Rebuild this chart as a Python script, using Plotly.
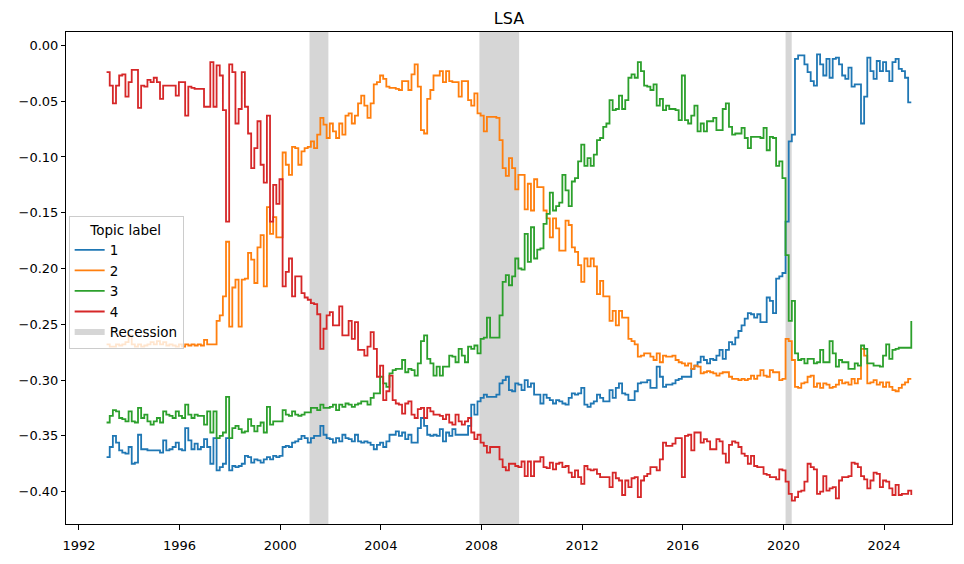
import pandas as pd
import plotly.graph_objects as go

# ~8 readings per year (meeting dates), Feb 1993 .. Jan 2025
dates = pd.date_range("1993-02-05", "2025-01-30", periods=257)

topic_1 = [
    -0.369, -0.360, -0.350, -0.356, -0.363, -0.365, -0.366, -0.360,
    -0.375, -0.374, -0.349, -0.362, -0.362, -0.363, -0.363, -0.363,
    -0.363, -0.365, -0.354, -0.363, -0.362, -0.360, -0.356, -0.362,
    -0.363, -0.343, -0.354, -0.362, -0.357, -0.362, -0.360, -0.353,
    -0.360, -0.375, -0.352, -0.381, -0.378, -0.375, -0.352, -0.381,
    -0.377, -0.378, -0.377, -0.375, -0.368, -0.369, -0.374, -0.371,
    -0.372, -0.374, -0.371, -0.369, -0.371, -0.368, -0.369, -0.368,
    -0.360, -0.359, -0.360, -0.356, -0.355, -0.353, -0.350, -0.352,
    -0.356, -0.352, -0.350, -0.350, -0.341, -0.349, -0.352, -0.353,
    -0.356, -0.352, -0.355, -0.349, -0.352, -0.353, -0.355, -0.349,
    -0.355, -0.356, -0.355, -0.356, -0.358, -0.362, -0.358, -0.356,
    -0.360, -0.355, -0.349, -0.349, -0.346, -0.350, -0.347, -0.353,
    -0.349, -0.356, -0.356, -0.343, -0.334, -0.341, -0.349, -0.350,
    -0.349, -0.350, -0.344, -0.355, -0.347, -0.350, -0.344, -0.349,
    -0.349, -0.349, -0.349, -0.341, -0.322, -0.331, -0.319, -0.316,
    -0.313, -0.315, -0.315, -0.315, -0.313, -0.303, -0.300, -0.297,
    -0.309, -0.310, -0.303, -0.304, -0.309, -0.300, -0.306, -0.303,
    -0.313, -0.313, -0.321, -0.313, -0.316, -0.318, -0.321, -0.318,
    -0.319, -0.321, -0.322, -0.316, -0.312, -0.313, -0.312, -0.307,
    -0.322, -0.324, -0.321, -0.319, -0.313, -0.316, -0.319, -0.319,
    -0.309, -0.316, -0.307, -0.303, -0.312, -0.313, -0.318, -0.318,
    -0.310, -0.303, -0.302, -0.302, -0.300, -0.307, -0.307, -0.288,
    -0.297, -0.306, -0.304, -0.304, -0.303, -0.300, -0.299, -0.297,
    -0.297, -0.297, -0.290, -0.287, -0.284, -0.279, -0.282, -0.285,
    -0.281, -0.282, -0.278, -0.273, -0.281, -0.273, -0.266, -0.268,
    -0.262, -0.256, -0.251, -0.245, -0.240, -0.241, -0.244, -0.241,
    -0.248, -0.248, -0.226, -0.229, -0.240, -0.209, -0.207, -0.204,
    -0.158, -0.086, -0.080, -0.012, -0.009, -0.009, -0.017, -0.024,
    -0.032, -0.036, -0.008, -0.017, -0.027, -0.012, -0.029, -0.012,
    -0.011, -0.017, -0.027, -0.030, -0.020, -0.037, -0.035, -0.035,
    -0.070, -0.046, -0.011, -0.023, -0.030, -0.014, -0.023, -0.015,
    -0.023, -0.032, -0.015, -0.012, -0.021, -0.023, -0.029, -0.051,
    -0.051,
]

topic_2 = [
    -0.268, -0.270, -0.270, -0.268, -0.269, -0.268, -0.266, -0.260,
    -0.268, -0.270, -0.268, -0.270, -0.269, -0.268, -0.266, -0.268,
    -0.265, -0.268, -0.266, -0.269, -0.268, -0.269, -0.270, -0.268,
    -0.270, -0.268, -0.269, -0.268, -0.269, -0.268, -0.269, -0.264,
    -0.268, -0.268, -0.268, -0.247, -0.242, -0.225, -0.176, -0.252,
    -0.217, -0.210, -0.252, -0.210, -0.209, -0.186, -0.192, -0.213,
    -0.181, -0.170, -0.216, -0.145, -0.169, -0.154, -0.172, -0.172,
    -0.096, -0.107, -0.116, -0.091, -0.092, -0.107, -0.095, -0.092,
    -0.091, -0.086, -0.092, -0.080, -0.065, -0.071, -0.083, -0.070,
    -0.077, -0.083, -0.070, -0.080, -0.063, -0.061, -0.070, -0.063,
    -0.052, -0.045, -0.054, -0.065, -0.052, -0.035, -0.033, -0.027,
    -0.030, -0.037, -0.038, -0.038, -0.039, -0.040, -0.032, -0.032,
    -0.040, -0.026, -0.017, -0.037, -0.076, -0.079, -0.048, -0.040,
    -0.027, -0.027, -0.023, -0.033, -0.023, -0.032, -0.033, -0.033,
    -0.046, -0.032, -0.032, -0.049, -0.054, -0.043, -0.061, -0.063,
    -0.077, -0.064, -0.064, -0.064, -0.065, -0.085, -0.110, -0.117,
    -0.101, -0.110, -0.129, -0.116, -0.116, -0.147, -0.124, -0.148,
    -0.120, -0.127, -0.127, -0.148, -0.155, -0.172, -0.155, -0.164,
    -0.184, -0.184, -0.157, -0.161, -0.181, -0.185, -0.197, -0.212,
    -0.191, -0.198, -0.191, -0.198, -0.223, -0.211, -0.225, -0.225,
    -0.247, -0.238, -0.251, -0.238, -0.244, -0.244, -0.263, -0.265,
    -0.268, -0.279, -0.278, -0.276, -0.276, -0.279, -0.282, -0.276,
    -0.284, -0.278, -0.279, -0.279, -0.278, -0.282, -0.284, -0.285,
    -0.287, -0.285, -0.290, -0.287, -0.288, -0.294, -0.293, -0.292,
    -0.293, -0.294, -0.296, -0.294, -0.293, -0.293, -0.297, -0.299,
    -0.299, -0.300, -0.299, -0.300, -0.299, -0.296, -0.299, -0.296,
    -0.291, -0.296, -0.297, -0.291, -0.293, -0.293, -0.300, -0.299,
    -0.263, -0.265, -0.282, -0.306, -0.307, -0.303, -0.302, -0.297,
    -0.296, -0.306, -0.303, -0.307, -0.303, -0.304, -0.307, -0.306,
    -0.304, -0.300, -0.303, -0.302, -0.304, -0.299, -0.303, -0.299,
    -0.272, -0.278, -0.303, -0.302, -0.300, -0.304, -0.302, -0.306,
    -0.302, -0.306, -0.309, -0.310, -0.307, -0.304, -0.302, -0.299,
    -0.299,
]

topic_3 = [
    -0.338, -0.332, -0.327, -0.328, -0.334, -0.335, -0.337, -0.328,
    -0.337, -0.338, -0.325, -0.334, -0.331, -0.337, -0.340, -0.337,
    -0.334, -0.338, -0.328, -0.331, -0.332, -0.334, -0.328, -0.332,
    -0.334, -0.322, -0.331, -0.334, -0.331, -0.332, -0.332, -0.340,
    -0.328, -0.347, -0.328, -0.352, -0.350, -0.347, -0.315, -0.352,
    -0.343, -0.341, -0.344, -0.347, -0.346, -0.335, -0.341, -0.346,
    -0.341, -0.338, -0.347, -0.324, -0.340, -0.337, -0.337, -0.337,
    -0.327, -0.331, -0.332, -0.328, -0.331, -0.332, -0.331, -0.329,
    -0.329, -0.325, -0.325, -0.327, -0.322, -0.325, -0.325, -0.324,
    -0.322, -0.327, -0.322, -0.324, -0.321, -0.322, -0.324, -0.322,
    -0.321, -0.319, -0.319, -0.322, -0.316, -0.312, -0.312, -0.297,
    -0.303, -0.306, -0.294, -0.291, -0.290, -0.290, -0.282, -0.293,
    -0.290, -0.291, -0.296, -0.285, -0.265, -0.260, -0.281, -0.285,
    -0.296, -0.288, -0.296, -0.288, -0.288, -0.278, -0.279, -0.284,
    -0.272, -0.278, -0.284, -0.270, -0.272, -0.269, -0.276, -0.263,
    -0.262, -0.244, -0.262, -0.262, -0.262, -0.242, -0.212, -0.206,
    -0.215, -0.207, -0.191, -0.200, -0.201, -0.169, -0.194, -0.163,
    -0.191, -0.183, -0.182, -0.160, -0.151, -0.132, -0.148, -0.144,
    -0.141, -0.116, -0.130, -0.144, -0.122, -0.119, -0.104, -0.089,
    -0.108, -0.101, -0.108, -0.098, -0.085, -0.083, -0.073, -0.070,
    -0.049, -0.058, -0.057, -0.045, -0.057, -0.049, -0.029, -0.026,
    -0.029, -0.015, -0.023, -0.036, -0.037, -0.040, -0.035, -0.054,
    -0.048, -0.058, -0.054, -0.057, -0.057, -0.058, -0.067, -0.027,
    -0.067, -0.070, -0.063, -0.054, -0.077, -0.070, -0.077, -0.068,
    -0.068, -0.065, -0.076, -0.076, -0.057, -0.052, -0.073, -0.080,
    -0.079, -0.079, -0.074, -0.083, -0.092, -0.082, -0.082, -0.082,
    -0.083, -0.074, -0.094, -0.082, -0.083, -0.108, -0.104, -0.119,
    -0.188, -0.247, -0.229, -0.276, -0.282, -0.281, -0.285, -0.281,
    -0.281, -0.285, -0.284, -0.273, -0.284, -0.284, -0.265, -0.276,
    -0.288, -0.282, -0.284, -0.284, -0.290, -0.290, -0.285, -0.287,
    -0.269, -0.272, -0.285, -0.285, -0.287, -0.287, -0.288, -0.278,
    -0.268, -0.281, -0.273, -0.272, -0.271, -0.271, -0.271, -0.271,
    -0.247,
]

topic_4 = [
    -0.024, -0.036, -0.052, -0.036, -0.027, -0.026, -0.046, -0.033,
    -0.022, -0.022, -0.056, -0.036, -0.037, -0.031, -0.033, -0.029,
    -0.033, -0.048, -0.036, -0.036, -0.036, -0.036, -0.045, -0.033,
    -0.033, -0.063, -0.037, -0.038, -0.039, -0.039, -0.039, -0.055,
    -0.055, -0.015, -0.055, -0.018, -0.027, -0.058, -0.158, -0.017,
    -0.024, -0.070, -0.057, -0.024, -0.055, -0.079, -0.110, -0.092,
    -0.068, -0.107, -0.123, -0.063, -0.158, -0.125, -0.142, -0.120,
    -0.216, -0.203, -0.191, -0.225, -0.207, -0.207, -0.222, -0.226,
    -0.228, -0.231, -0.232, -0.241, -0.272, -0.254, -0.242, -0.239,
    -0.251, -0.251, -0.234, -0.260, -0.260, -0.247, -0.263, -0.248,
    -0.273, -0.273, -0.278, -0.270, -0.257, -0.272, -0.297, -0.287,
    -0.318, -0.310, -0.296, -0.318, -0.321, -0.322, -0.330, -0.321,
    -0.319, -0.331, -0.334, -0.326, -0.325, -0.334, -0.325, -0.328,
    -0.331, -0.331, -0.332, -0.335, -0.331, -0.338, -0.340, -0.331,
    -0.337, -0.340, -0.337, -0.334, -0.347, -0.353, -0.349, -0.356,
    -0.359, -0.365, -0.360, -0.360, -0.360, -0.371, -0.378, -0.381,
    -0.375, -0.375, -0.377, -0.378, -0.373, -0.386, -0.373, -0.386,
    -0.373, -0.373, -0.369, -0.378, -0.379, -0.374, -0.380, -0.375,
    -0.374, -0.378, -0.377, -0.383, -0.387, -0.381, -0.387, -0.393,
    -0.377, -0.380, -0.381, -0.380, -0.384, -0.387, -0.387, -0.387,
    -0.396, -0.383, -0.388, -0.390, -0.403, -0.390, -0.396, -0.388,
    -0.387, -0.405, -0.390, -0.386, -0.384, -0.378, -0.378, -0.381,
    -0.371, -0.356, -0.359, -0.359, -0.357, -0.352, -0.352, -0.387,
    -0.350, -0.349, -0.363, -0.347, -0.347, -0.356, -0.353, -0.355,
    -0.362, -0.362, -0.353, -0.355, -0.366, -0.374, -0.358, -0.355,
    -0.356, -0.360, -0.366, -0.368, -0.375, -0.368, -0.377, -0.378,
    -0.378, -0.384, -0.385, -0.387, -0.387, -0.389, -0.380, -0.381,
    -0.391, -0.402, -0.408, -0.405, -0.400, -0.399, -0.391, -0.375,
    -0.378, -0.380, -0.402, -0.400, -0.386, -0.399, -0.397, -0.396,
    -0.406, -0.390, -0.387, -0.387, -0.386, -0.374, -0.375, -0.378,
    -0.386, -0.389, -0.397, -0.390, -0.383, -0.384, -0.396, -0.390,
    -0.391, -0.397, -0.403, -0.394, -0.403, -0.402, -0.402, -0.399,
    -0.403,
]

topic_labels = ["1", "2", "3", "4"]
colors = ["#1f77b4", "#ff7f0e", "#2ca02c", "#d62728"]

rec_start = ["2001-03-01", "2007-12-01", "2020-02-01"]
rec_end = ["2001-11-30", "2009-06-30", "2020-04-30"]

fig = go.Figure()

for s, e in zip(rec_start, rec_end):
    fig.add_vrect(x0=s, x1=e, fillcolor="rgba(128,128,128,0.32)",
                  line_width=0, layer="below")

for lab, vals, c in zip(topic_labels, [topic_1, topic_2, topic_3, topic_4], colors):
    fig.add_trace(go.Scatter(x=dates, y=vals, mode="lines", name=lab,
                             line=dict(color=c, width=1.8, shape="hv")))

# legend entry for the shaded spans
fig.add_trace(go.Scatter(x=[None], y=[None], mode="none", fill="toself",
                         fillcolor="rgba(128,128,128,0.32)", name="Recession"))

axis_common = dict(showline=True, mirror=True, linecolor="black", linewidth=1,
                   ticks="outside", tickcolor="black",
                   showgrid=False, zeroline=False)

# page body adds an 8px offset, so the figure is a little smaller than the window
fig.update_layout(
    width=956, height=556,
    margin=dict(l=54, r=11, t=24, b=33),
    plot_bgcolor="white", paper_bgcolor="white",
    font=dict(family="DejaVu Sans", size=13, color="black"),
    title=dict(text="LSA", x=0.5, xref="paper", xanchor="center",
               y=0.982, yref="container", yanchor="middle",
               font=dict(size=16, color="black")),
    legend=dict(title=dict(text="Topic label", side="top center", font=dict(size=13.5)),
                x=0.003, y=0.626, xanchor="left", yanchor="top",
                bgcolor="rgba(255,255,255,0.8)", bordercolor="#cccccc",
                borderwidth=1, itemwidth=30, font=dict(size=13.5)),
    showlegend=True,
)
fig.update_xaxes(type="date", range=["1991-06-27", "2026-09-13"],
                 tick0="1992-01-01", dtick="M48", tickformat="%Y",
                 ticklen=5, ticklabelstandoff=4, **axis_common)
fig.update_yaxes(range=[-0.429, 0.012], dtick=0.05, tickformat=".2f",
                 ticklen=4, **axis_common)

fig.write_html("out.html")
